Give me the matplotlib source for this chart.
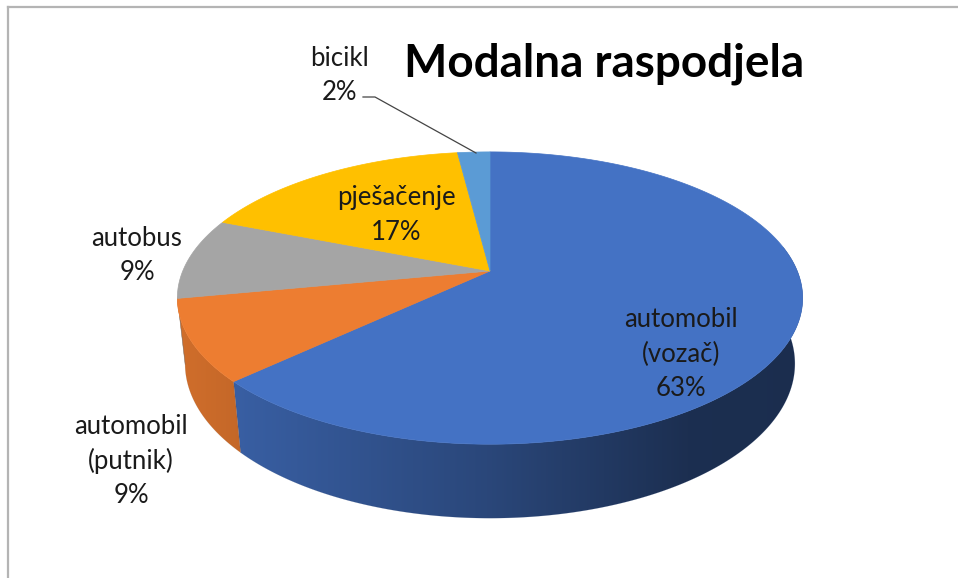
import numpy as np
import matplotlib.pyplot as plt
from matplotlib.patches import Polygon
from matplotlib.colors import to_rgb

# podaci
kategorije = ['automobil\n(vozač)', 'automobil\n(putnik)', 'autobus', 'pješačenje', 'bicikl']
udjeli = [63, 9, 9, 17, 2]
boje = ['#4472C4', '#ED7D31', '#A5A5A5', '#FFC000', '#5B9BD5']
naslov = 'Modalna raspodjela'

# polozaji natpisa (pikseli)
poz_natpisa = [(681, 354), (131, 461), (137, 255), (396, 215), (340, 75)]

# perspektiva 3D kolaca
cx, cy = 490, 271
alpha = np.radians(28)
D = 4.77
F = 1434
sx = 1.022
t = 0.25

def proj(r, theta, z):
    X = r * np.cos(theta)
    Y = r * np.sin(theta)
    yc = Y * np.sin(alpha) + z * np.cos(alpha)
    zc = D + Y * np.cos(alpha) - z * np.sin(alpha)
    return cx + sx * X * F / zc, cy - yc * F / zc

def sjena(x):
    return np.interp(x, [177, 490, 690, 810], [0.88, 0.62, 0.41, 0.40])

fig = plt.figure(figsize=(9.58, 5.78), dpi=100)
ax = fig.add_axes([0, 0, 1, 1])
ax.set_xlim(0, 958)
ax.set_ylim(578, 0)
ax.axis('off')

plt.rcParams['font.family'] = ['Lato', 'DejaVu Sans']

granice = 90 - 3.6 * np.concatenate([[0], np.cumsum(udjeli)])

# bocne strane (samo prednji dio), gradijent preko slike
gx = np.linspace(150, 830, 700)
for i in range(len(udjeli)):
    a0, a1 = granice[i], granice[i + 1]
    hi, lo = min(a0, 10), max(a1, -170)
    if hi <= lo:
        continue
    th = np.radians(np.linspace(hi, lo, 300))
    xt, yt = proj(1, th, 0)
    xb, yb = proj(1, th[::-1], -t)
    pts = list(zip(xt, yt)) + list(zip(xb, yb))
    baza = np.array(to_rgb(boje[i]))
    grad = np.clip(sjena(gx)[:, None] * baza[None, :], 0, 1)[None, :, :]
    poly = Polygon(pts, closed=True, facecolor='none', edgecolor='none')
    ax.add_patch(poly)
    img = ax.imshow(grad, extent=(150, 830, 540, 140), aspect='auto',
                    interpolation='bilinear', zorder=1)
    img.set_clip_path(poly)
    ax.add_patch(Polygon(pts, closed=True, facecolor='none',
                         edgecolor=baza * 0.6, lw=0.3, zorder=1.1, alpha=0.3))

# gornje plohe
for i in range(len(udjeli)):
    a0, a1 = granice[i], granice[i + 1]
    th = np.radians(np.linspace(a0, a1, 200))
    xs, ys = proj(1, th, 0)
    x0, y0 = proj(0, 0, 0)
    pts = [(x0, y0)] + list(zip(xs, ys))
    ax.add_patch(Polygon(pts, closed=True, facecolor=boje[i], edgecolor=boje[i],
                         lw=0.5, zorder=2))

# natpisi
for i in range(len(udjeli)):
    x, y = poz_natpisa[i]
    ax.text(x, y, f'{kategorije[i]}\n{udjeli[i]}%', ha='center', va='center',
            fontsize=18.5, color='#1a1a1a', linespacing=1.45, zorder=3)

# linija za bicikl
ax.plot([363, 375, 476], [97, 97, 153], color='#444444', lw=0.9, zorder=3)

ax.text(604, 64, naslov, ha='center', va='center', fontsize=33,
        fontweight='bold', color='black', zorder=3)

# okvir
ax.plot([8, 958], [7, 7], color='#b4b4b4', lw=1.6)
ax.plot([8, 8], [7, 578], color='#b4b4b4', lw=1.6)

fig.savefig('out.png', dpi=100)
